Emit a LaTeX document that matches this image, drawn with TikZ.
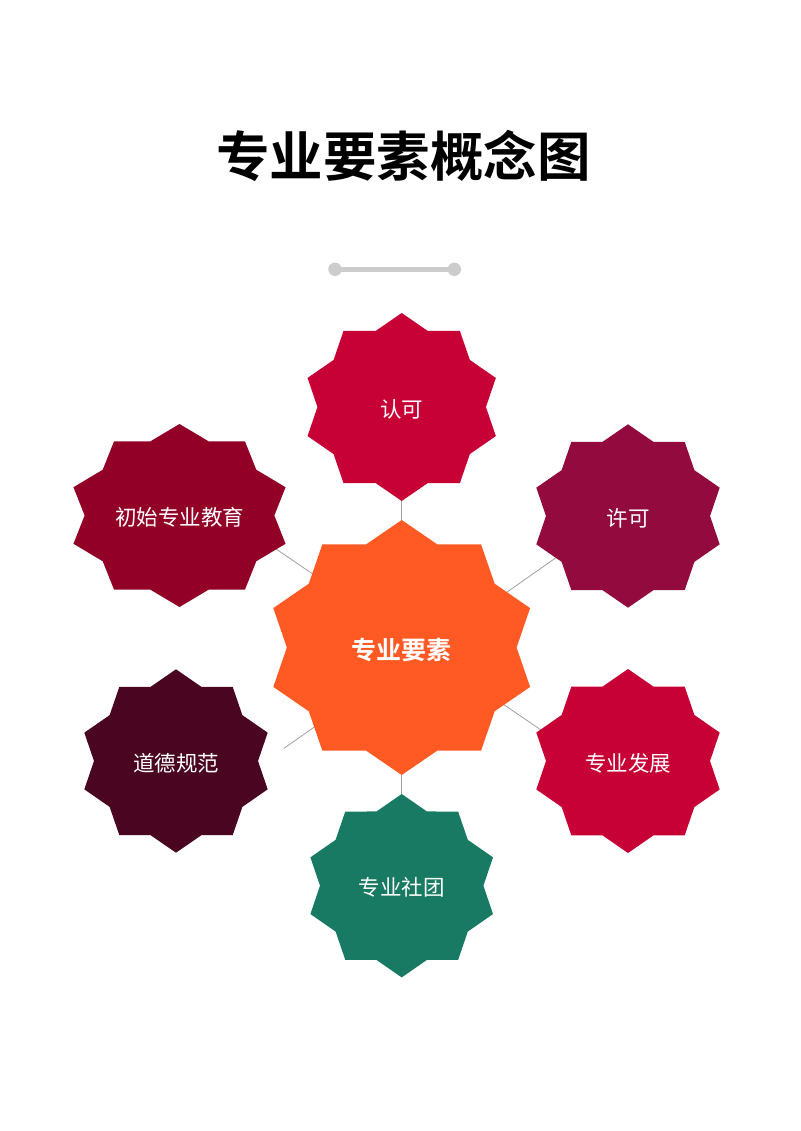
\documentclass[tikz,border=0pt]{standalone}
\usepackage{fontspec}
\newfontfamily\cjk{Noto Sans CJK SC}[BoldFont={Noto Sans CJK SC Bold}]
\definecolor{cOrange}{HTML}{FF5A24}
\definecolor{cCrimson}{HTML}{C70036}
\definecolor{cWine}{HTML}{930A3E}
\definecolor{cMaroon}{HTML}{920027}
\definecolor{cPlum}{HTML}{4A0520}
\definecolor{cTeal}{HTML}{187A63}
\definecolor{cLine}{HTML}{A0A0A0}
\definecolor{cDeco}{HTML}{CCCCCC}
\newcommand\mystar[5]{%
  \fill[#5] plot[samples at={0,...,19}, variable=\i]
    ({#1+#3*(1-0.149*mod(\i,2))*cos(90+18*\i)},
     {#2-#4*(1-0.149*mod(\i,2))*sin(90+18*\i)}) -- cycle;}
\begin{document}
\begin{tikzpicture}[x=1pt,y=-1pt,
  lbl/.style={text=white,font=\cjk\fontsize{21.5}{26}\selectfont,inner sep=0pt,yshift=-2pt},
  conn/.style={draw=cLine,line width=0.8pt}]
\useasboundingbox[fill=white] (0,0) rectangle (800,1131);
% title
\node[font=\cjk\bfseries\fontsize{53.5}{62}\selectfont,inner sep=0pt] (title) at (403.5,156) {专业要素概念图};
% decoration
\coordinate (d1) at (335,269.3);
\coordinate (d2) at (454.3,269.3);
\draw[cDeco,line width=4.5pt] (d1) -- (d2);
\fill[cDeco] (d1) circle[radius=6.7];
\fill[cDeco] (d2) circle[radius=6.7];
% centres
\coordinate (pc) at (401.7,647.5);
\coordinate (prk) at (401.7,407);
\coordinate (pxk) at (628,516);
\coordinate (pcs) at (179.5,515.5);
\coordinate (pfz) at (628,761);
\coordinate (pdd) at (176,761);
\coordinate (pst) at (401.7,885.7);
% connector end points
\coordinate (a1) at (260,538);
\coordinate (a2) at (560,743);
\coordinate (b1) at (572,546.5);
\coordinate (b2) at (284,748.3);
\draw[conn] (prk) -- (pst);
\draw[conn] (a1) -- (a2);
\draw[conn] (b1) -- (b2);
% stars
\mystar{401.7}{407}{99}{94}{cCrimson}
\mystar{628}{516}{96.4}{91.7}{cWine}
\mystar{179.5}{515.5}{111.5}{91.5}{cMaroon}
\mystar{628}{761}{96.4}{92}{cCrimson}
\mystar{176}{761}{96.4}{91.7}{cPlum}
\mystar{401.7}{885.7}{96}{91.7}{cTeal}
\mystar{401.7}{647.5}{135}{127.5}{cOrange}
% labels
\node[lbl] (rk) at (prk) {认可};
\node[lbl] (xk) at (pxk) {许可};
\node[lbl] (cs) at (pcs) {初始专业教育};
\node[lbl] (fz) at (pfz) {专业发展};
\node[lbl] (dd) at (pdd) {道德规范};
\node[lbl] (st) at (pst) {专业社团};
\node[lbl,font=\cjk\bfseries\fontsize{25}{30}\selectfont] (c) at (pc) {专业要素};
\end{tikzpicture}
\end{document}
